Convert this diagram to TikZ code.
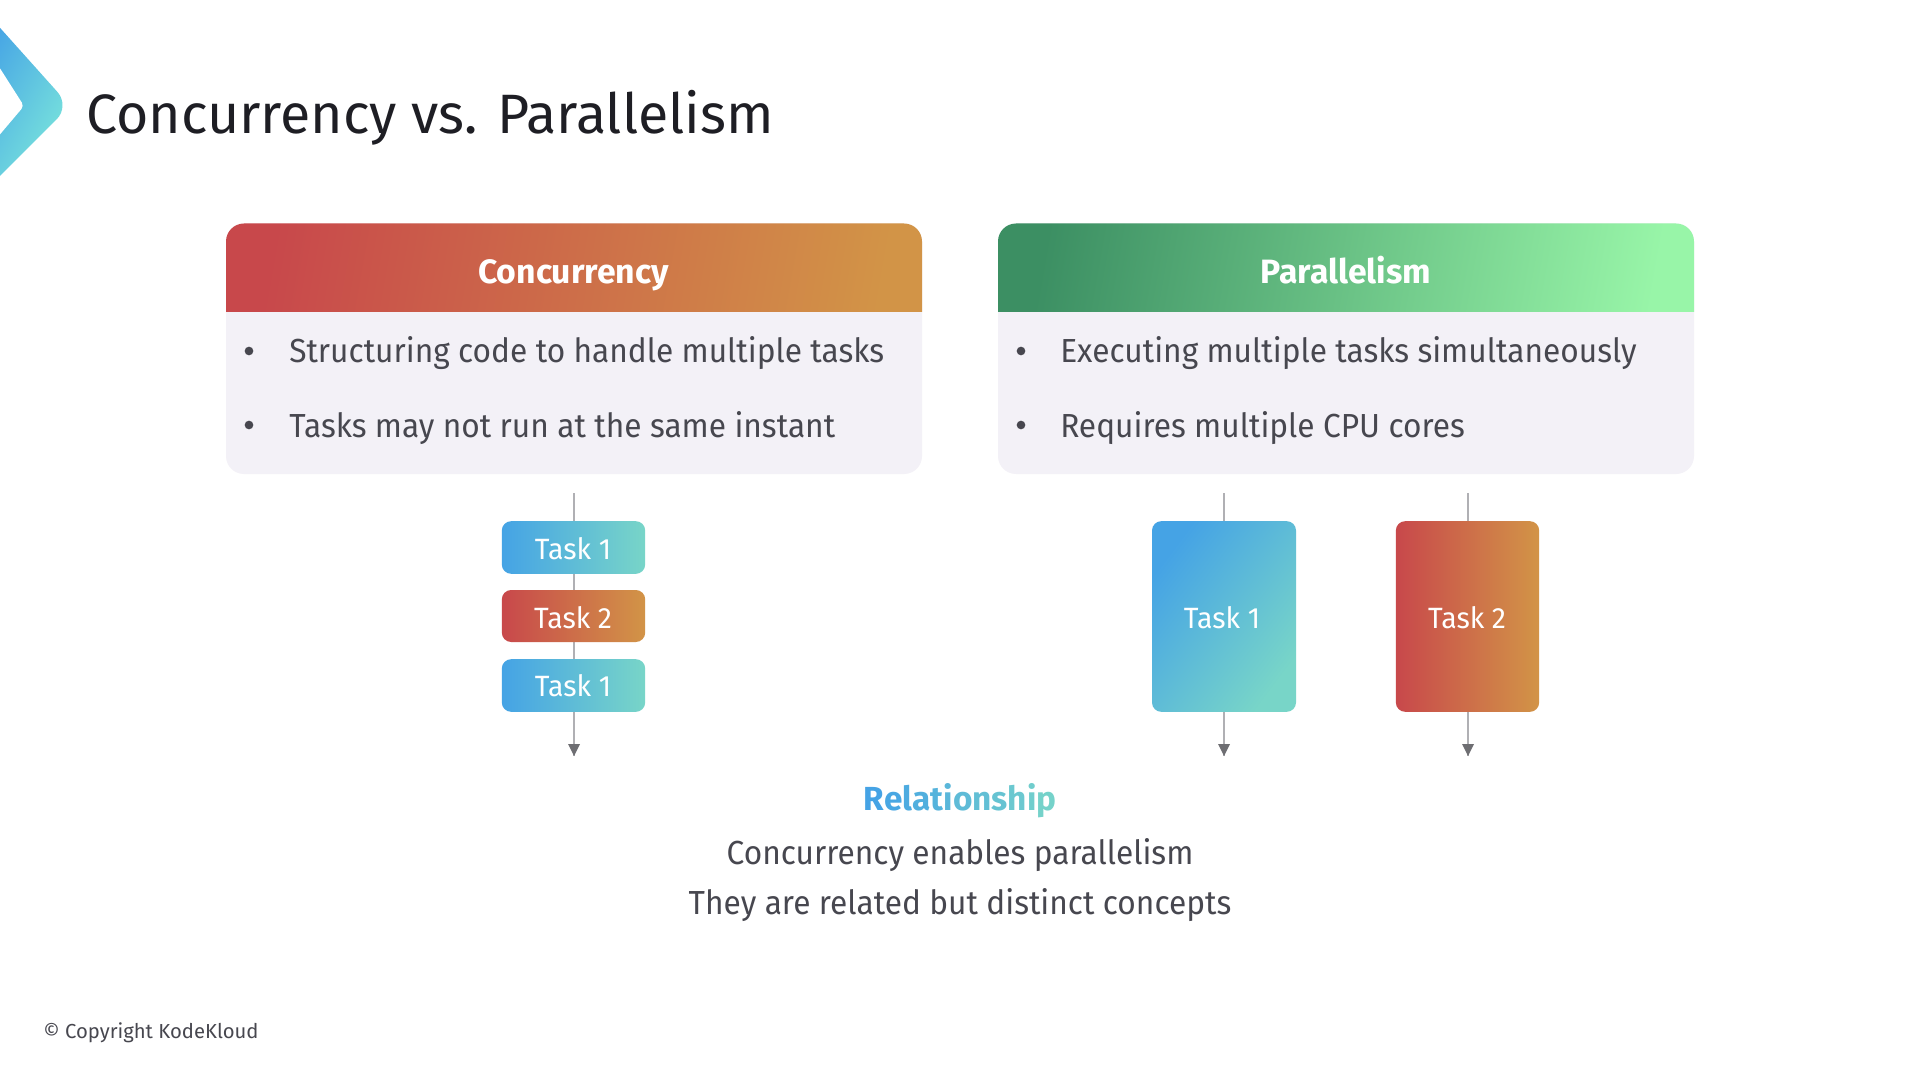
\documentclass[tikz,border=0pt]{standalone}
\usepackage{fontspec}
\setmainfont{Fira Sans}
\newfontfamily\narrowf[FakeStretch=0.95]{Fira Sans}
\newfontfamily\taskf[FakeStretch=0.97]{Fira Sans}
\usetikzlibrary{calc}
\definecolor{bluea}{HTML}{45A3E5}
\definecolor{blueb}{HTML}{78D5C8}
\definecolor{chevb}{HTML}{7EEADB}
\definecolor{reda}{HTML}{C8484B}
\definecolor{redb}{HTML}{D29447}
\definecolor{grna}{HTML}{3C8F63}
\definecolor{grnb}{HTML}{98F5A8}
\definecolor{cardbg}{HTML}{F3F1F7}
\definecolor{bodytxt}{HTML}{47474F}
\definecolor{titletxt}{HTML}{1E1E24}
\definecolor{linegray}{HTML}{B0B0B4}
\definecolor{tipgray}{HTML}{6E6E72}
\tikzset{
  card/.style={fill=cardbg,draw=none,rounded corners=13.5pt},
  bodytext/.style={anchor=base west,text=bodytxt,font=\narrowf\fontsize{25}{30}\selectfont,inner sep=0pt},
  headtext/.style={anchor=base,text=white,font=\fontsize{25.3}{30}\selectfont\bfseries,inner sep=0pt},
  centertext/.style={anchor=base,text=bodytxt,font=\narrowf\fontsize{25}{30}\selectfont,inner sep=0pt},
  tasklabel/.style={anchor=base,text=white,font=\taskf\fontsize{22}{26}\selectfont,inner sep=0pt},
  bulletdot/.style={circle,fill=bodytxt,inner sep=0pt,minimum size=6.5pt},
  bluetask/.style={rectangle,rounded corners=7pt,inner sep=0pt,left color=bluea,right color=blueb},
  redtask/.style={rectangle,rounded corners=7pt,inner sep=0pt,left color=reda,right color=redb},
  timeline/.style={draw=linegray,line width=1pt},
  tip/.style={fill=tipgray,draw=none},
}
\newcommand{\arrowhead}[1]{\fill[tip] ($(#1)+(-6,-12)$) -- ($(#1)+(6,-12)$) -- (#1) -- cycle;}
\begin{document}
\begin{tikzpicture}[x=0.75pt,y=-0.75pt]
\useasboundingbox (0,0) rectangle (1920,1080);
\fill[white] (0,0) rectangle (1920,1080);
% chevron
\begin{scope}
\clip (0,0) rectangle (100,200);
\shade[left color=bluea,right color=chevb,shading angle=60,rounded corners=14pt]
  (-20,5.5) -- (70,106) -- (-20,196) -- cycle;
\fill[white,rounded corners=3pt] (-20,37) -- (24,106) -- (-20,158) -- cycle;
\end{scope}
\node[anchor=base west,text=titletxt,font=\fontsize{41.6}{50}\selectfont,inner sep=0pt] (title) at (86,134) {Concurrency vs. Parallelism};
% cards
\fill[card] (226,223.5) rectangle (922,474);
\begin{scope}
\clip (220,220) rectangle (930,312);
\shade[left color=reda,right color=redb,shading angle=80,rounded corners=13.5pt] (226,223.5) rectangle (922,350);
\end{scope}
\fill[card] (998,223.5) rectangle (1694,474);
\begin{scope}
\clip (990,220) rectangle (1700,312);
\shade[left color=grna,right color=grnb,shading angle=80,rounded corners=13.5pt] (998,223.5) rectangle (1694,350);
\end{scope}
\node[headtext] (hc) at (573.5,284) {Concurrency};
\node[headtext] (hp) at (1346,284) {Parallelism};
\node[bulletdot] (b1) at (249,351) {};
\node[bulletdot] (b2) at (249,425) {};
\node[bulletdot] (b3) at (1021,351) {};
\node[bulletdot] (b4) at (1021,425) {};
\node[bodytext] (t1) at (289,363) {Structuring code to handle multiple tasks};
\node[bodytext] (t2) at (289,437) {Tasks may not run at the same instant};
\node[bodytext] (t3) at (1060,363) {Executing multiple tasks simultaneously};
\node[bodytext] (t4) at (1060,437) {Requires multiple CPU cores};
% timelines
\coordinate (la) at (574,493);
\coordinate (lb) at (574,756);
\coordinate (pa) at (1224,493);
\coordinate (pb) at (1224,756);
\coordinate (qa) at (1468,493);
\coordinate (qb) at (1468,756);
\draw[timeline] (la) -- (lb);
\draw[timeline] (pa) -- (pb);
\draw[timeline] (qa) -- (qb);
\arrowhead{lb}
\arrowhead{pb}
\arrowhead{qb}
% tasks
\node[bluetask,minimum width=107.5pt,minimum height=39.5pt] (c1) at (573.5,547.5) {};
\node[redtask,minimum width=107.5pt,minimum height=39pt] (c2) at (573.5,616) {};
\node[bluetask,minimum width=107.5pt,minimum height=39.5pt] (c3) at (573.5,685.5) {};
\node[bluetask,shading angle=53,minimum width=108pt,minimum height=143pt] (p1) at (1224,616.5) {};
\node[redtask,minimum width=107.5pt,minimum height=143pt] (p2) at (1467.5,616.5) {};
\node[tasklabel] at (573,559) {Task 1};
\node[tasklabel] at (573,628) {Task 2};
\node[tasklabel] at (573,696) {Task 1};
\node[tasklabel] at (1222,628) {Task 1};
\node[tasklabel] at (1467,628) {Task 2};
% relationship
\node[anchor=base,font=\fontsize{25}{30}\selectfont\bfseries,inner sep=0pt] (rel) at (960,810) {\textcolor{bluea}{R}\textcolor{bluea!92!blueb}{e}\textcolor{bluea!84!blueb}{l}\textcolor{bluea!76!blueb}{a}\textcolor{bluea!68!blueb}{t}\textcolor{bluea!60!blueb}{i}\textcolor{bluea!52!blueb}{o}\textcolor{bluea!44!blueb}{n}\textcolor{bluea!36!blueb}{s}\textcolor{bluea!26!blueb}{h}\textcolor{bluea!16!blueb}{i}\textcolor{bluea!6!blueb}{p}};
\node[centertext] (r1) at (960,864) {Concurrency enables parallelism};
\node[centertext] (r2) at (960,914) {They are related but distinct concepts};
\node[anchor=base west,text=bodytxt,font=\fontsize{15.2}{18}\selectfont,inner sep=0pt] (copy) at (43,1038) {© Copyright KodeKloud};
\end{tikzpicture}
\end{document}
